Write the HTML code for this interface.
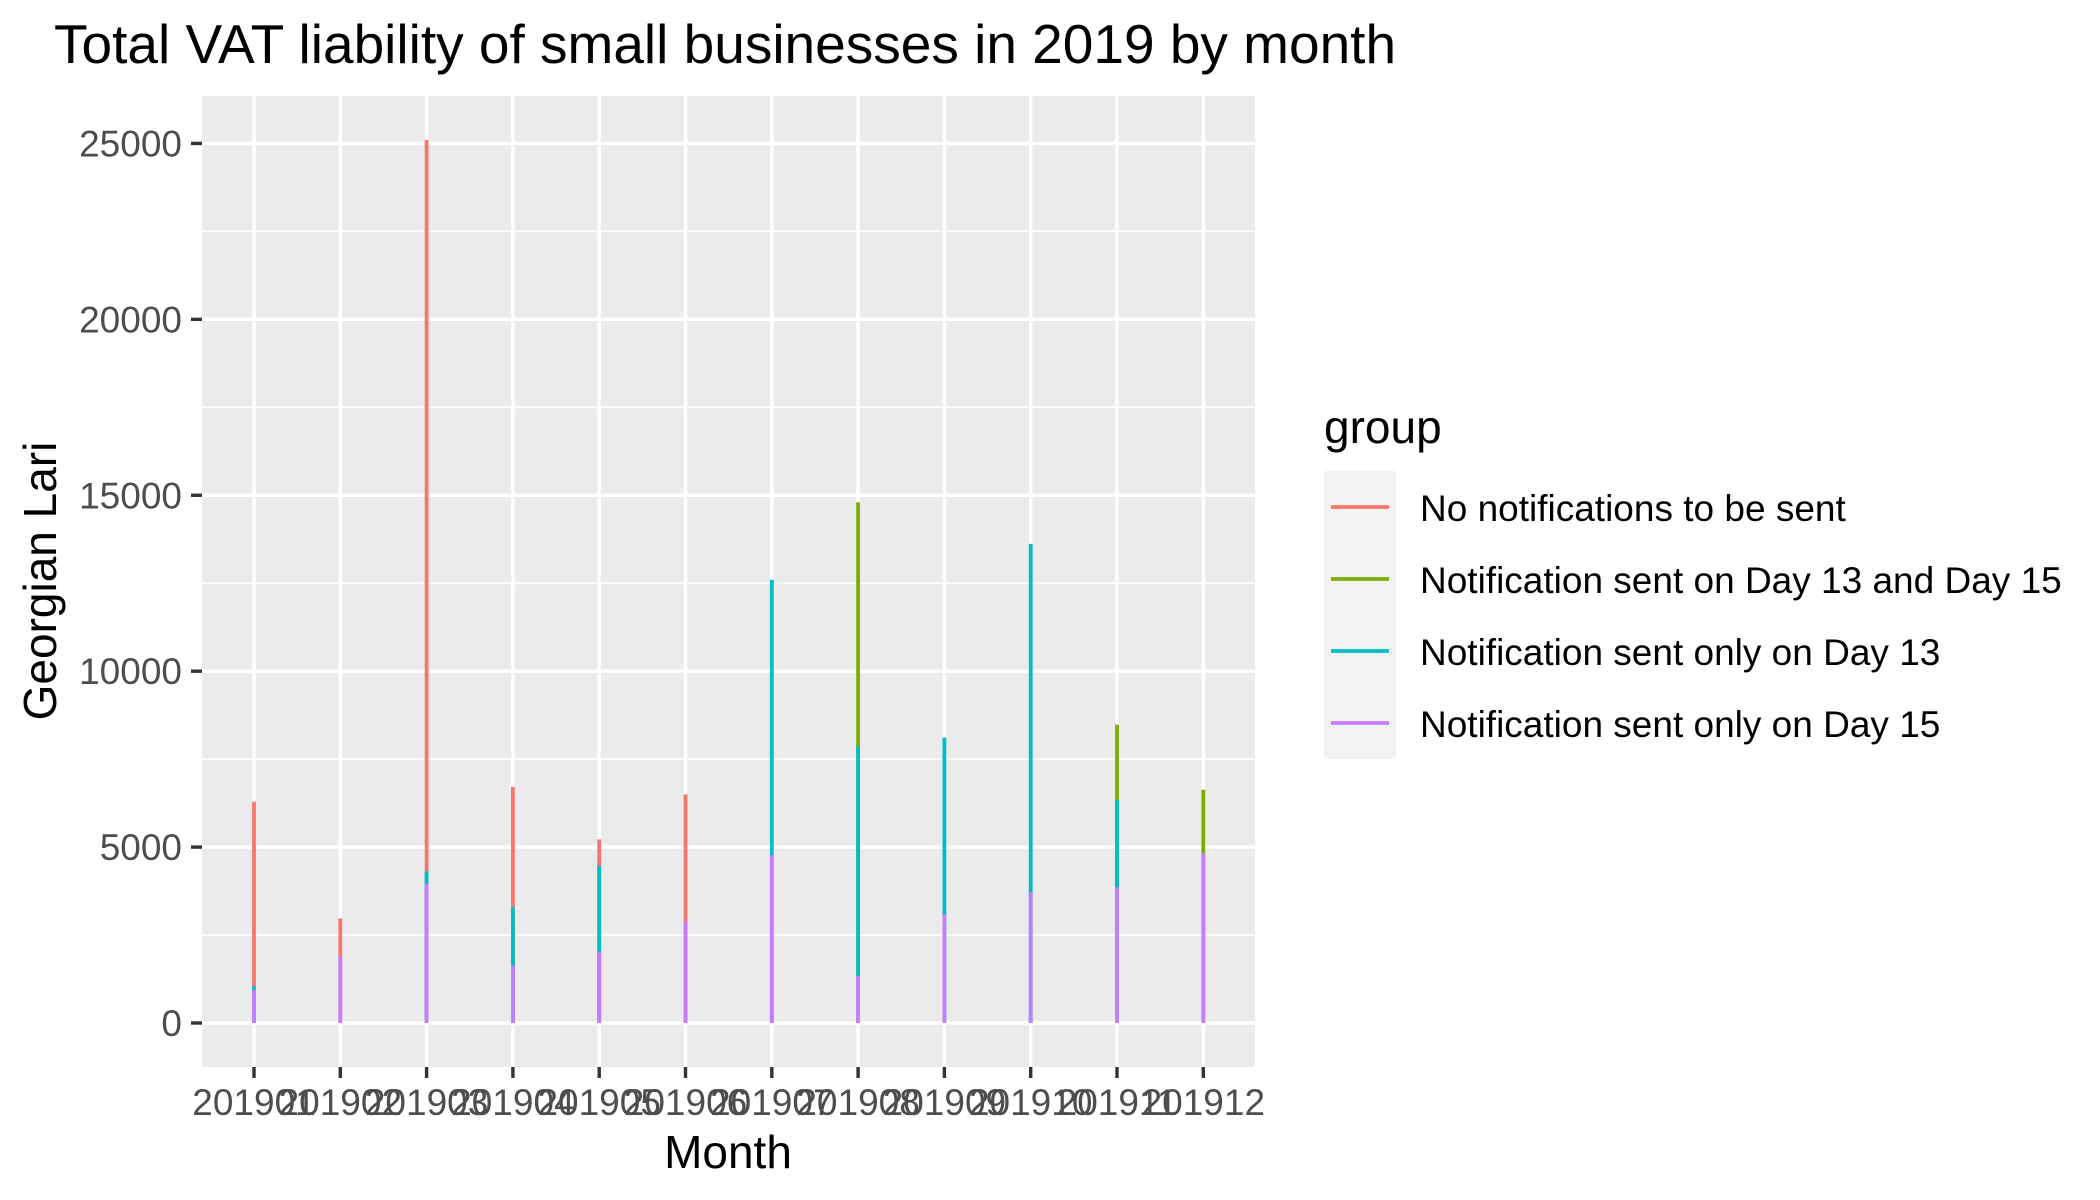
<!DOCTYPE html>
<html><head><meta charset="utf-8"><style>
html,body{margin:0;padding:0;background:#fff;}
svg{display:block;font-family:"Liberation Sans",Arial,sans-serif;}
</style></head><body>
<svg id="chart" width="2100" height="1200" viewBox="0 0 2100 1200" xmlns="http://www.w3.org/2000/svg">
<rect x="0" y="0" width="2100" height="1200" fill="#fff"/>
<text x="54" y="63" font-size="55" fill="#000">Total VAT liability of small businesses in 2019 by month</text>
<rect x="202" y="96" width="1053" height="971" fill="#EBEBEB"/>
<g id="grid"></g>
<g id="marks"></g>
<g id="axes"></g>
<text x="728" y="1168" font-size="46" text-anchor="middle" fill="#000">Month</text>
<text transform="translate(56,581) rotate(-90)" font-size="46" text-anchor="middle" fill="#000">Georgian Lari</text>
<g>
<text x="1324" y="443" font-size="46" fill="#000">group</text>
<rect x="1324" y="471" width="72" height="288" fill="#F2F2F2"/>
<g id="legend-items"></g>
</g>
</svg>
<script>
const months = ["201901","201902","201903","201904","201905","201906","201907","201908","201909","201910","201911","201912"];
const noNotif   = [6290, 2975, 25100, 6710, 5220, 6500, 0, 0, 0, 0, 0, 0];
const day13and15= [0, 0, 0, 0, 0, 0, 0, 14800, 0, 0, 8480, 6630];
const day13only = [1050, 0, 4310, 3290, 4470, 0, 12600, 7870, 8110, 13620, 6340, 0];
const day15only = [940, 1905, 3960, 1630, 2030, 2890, 4780, 1335, 3090, 3720, 3860, 4820];
const yTicks = [0, 5000, 10000, 15000, 20000, 25000];
const groupNames = ["No notifications to be sent","Notification sent on Day 13 and Day 15","Notification sent only on Day 13","Notification sent only on Day 15"];

const NS="http://www.w3.org/2000/svg";
const L=202,R=1255,T=96,B=1067;
const x=i=>254+86.3*i;
const y=v=>1023-v*0.035182;
function mk(tag,attrs,parent){const e=document.createElementNS(NS,tag);for(const k in attrs)e.setAttribute(k,attrs[k]);parent.appendChild(e);return e;}
const grid=document.getElementById('grid'),marks=document.getElementById('marks'),axes=document.getElementById('axes');
// minor y grid
for(let i=0;i<yTicks.length;i++){
  const v=yTicks[i]+2500;
  const yy=y(v);
  if(yy>T){const m=mk('line',{x1:L,x2:R,y1:yy,y2:yy,stroke:'#fff','stroke-width':1.8},grid);
  
  }
}
{const yy=y(-2500);}
yTicks.forEach(v=>{
  const g=mk('line',{x1:L,x2:R,y1:y(v),y2:y(v),stroke:'#fff','stroke-width':3.4},grid);
  
  
  const t=mk('line',{x1:191,x2:202,y1:y(v),y2:y(v),stroke:'#333','stroke-width':3.4},axes);
  
  
  const lb=mk('text',{x:182,y:y(v)+13,'font-size':37,'text-anchor':'end',fill:'#4D4D4D'},axes);
  
  
  lb.textContent=String(v);
});
months.forEach((m,i)=>{
  const g=mk('line',{x1:x(i),x2:x(i),y1:T,y2:B,stroke:'#fff','stroke-width':3.4},grid);
  
  
  const t=mk('line',{x1:x(i),x2:x(i),y1:B,y2:B+11,stroke:'#333','stroke-width':3.4},axes);
  
  
  const lb=mk('text',{x:x(i),y:1115,'font-size':37,'text-anchor':'middle',fill:'#4D4D4D'},axes);
  
  
  lb.textContent=m;
});
const series=[[noNotif,'#F8766D','no-notifications'],[day13and15,'#7CAE00','day13-and-day15'],[day13only,'#00BFC4','day13-only'],[day15only,'#C77CFF','day15-only']];
series.forEach(([vals,col,nm])=>{
  vals.forEach((v,i)=>{
    if(v<=0)return;
    const ln=mk('line',{x1:x(i),x2:x(i),y1:y(0),y2:y(v),stroke:col,'stroke-width':3.8,'stroke-linecap':'butt'},marks);
    
    
  });
});
const li=document.getElementById('legend-items');
series.forEach(([v,col,nm],k)=>{
  const yy=507+72*k;
  const ln=mk('line',{x1:1331,x2:1389,y1:yy,y2:yy,stroke:col,'stroke-width':3.8},li);
  
  
  const t=mk('text',{x:1420,y:yy+14,'font-size':37,fill:'#000'},li);
  
  
  t.textContent=groupNames[k];
});
</script>
</body></html>
